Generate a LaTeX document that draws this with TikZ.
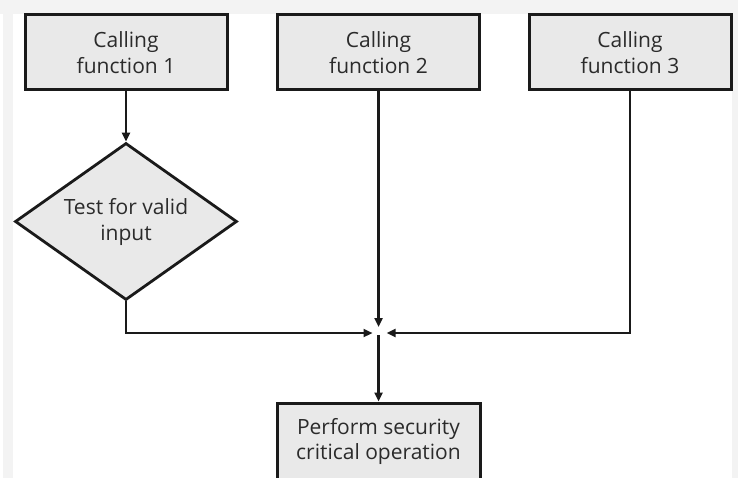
\documentclass[tikz,border=0pt]{standalone}
\usepackage{fontspec}
\setmainfont{Open Sans}
\usepackage{tikz}
\usetikzlibrary{arrows.meta,shapes.geometric}

\definecolor{framegray}{HTML}{F3F3F3}
\definecolor{boxgray}{HTML}{E9E9E9}
\definecolor{inkgray}{HTML}{1A1A1A}
\definecolor{textgray}{HTML}{2B2B2B}

\tikzset{
    callbox/.style = {draw = inkgray, line width = 3pt, fill = boxgray, text = textgray,
        minimum width = 202pt, minimum height = 75pt, inner sep = 0pt,
        align = center, font = {\fontsize{21}{25.5}\selectfont}},
    testbox/.style = {diamond, draw = inkgray, line width = 2.8pt, fill = boxgray, text = textgray,
        shape aspect = 1.41, minimum width = 222pt, minimum height = 157pt, inner sep = 0pt,
        align = center, font = {\fontsize{21}{26}\selectfont}},
    flow/.style = {draw = inkgray, line width = 2.3pt,
        -{Triangle[length = 9pt, width = 8pt]}}
}

\begin{document}
\begin{tikzpicture}[x = 1pt, y = -1pt]
        \useasboundingbox (0, 0) rectangle (738, 478);

        % grey frame of the figure
        \fill[framegray] (0, 0) rectangle (738, 14);
        \fill[framegray] (3, 14) rectangle (13, 478);
        \fill[framegray] (732, 14) rectangle (738, 478);

        % calling functions
        \node[callbox] (f1) at (126, 52.5) {Calling\\function 1};
        \node[callbox] (f2) at (378.5, 52.5) {Calling\\function 2};
        \node[callbox] (f3) at (630, 52.5) {Calling\\function 3};

        % check on the first path only
        \node[testbox] (test) at (126, 221.5) {Test for valid\\input};

        % where the three paths meet
        \coordinate (join) at (378.5, 333);

        % the protected operation
        \node[callbox, minimum width = 203pt, minimum height = 77pt] (op) at (378.5, 441.5)
            {Perform security\\critical operation};

        % connectors
        \draw[flow] (f1) -- (test);
        \draw[flow, shorten > = 6pt] (test.south) |- (join);
        \draw[flow, shorten > = 6pt] (f2) -- (join);
        \draw[flow, shorten > = 8pt] (f3.south) |- (join);
        \draw[flow, shorten < = 2pt] (join) -- (op);

    \end{tikzpicture}
\end{document}
